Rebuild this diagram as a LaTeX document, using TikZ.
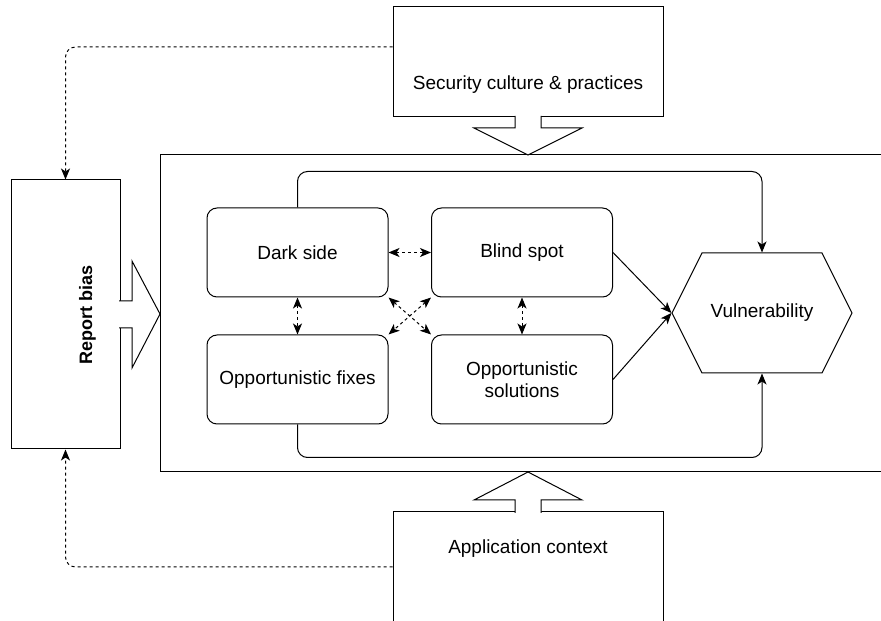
\documentclass[tikz,border=0pt]{standalone}
\usepackage{fontspec}
\setmainfont{Liberation Sans}
\usetikzlibrary{arrows.meta,shapes.symbols}

\begin{document}
\begin{tikzpicture}[>={Stealth[length=11bp,width=9bp,inset=3bp]},line join=miter,
  txt/.style={font=\fontsize{19bp}{22bp}\selectfont},
  outer/.style={draw,fill=white,txt,inner sep=0pt,minimum width=270bp},
  box/.style={draw,txt,rounded corners=10bp,minimum width=181bp,minimum height=89bp,inner sep=1bp,align=center},
  dotline/.style={dash pattern=on 3bp off 3bp}]
\pgfsetlinewidth{1bp}
\useasboundingbox (0bp,0bp) rectangle (881bp,621bp);
\clip (0bp,0bp) rectangle (881bp,621bp);
%%
\draw (890bp,466bp) -- (160bp,466bp) -- (160bp,149bp) -- (890bp,149bp);
\node (culture) at (528bp,559bp) [outer,text height=82.5bp,text depth=27.5bp] {Security culture \& practices};
\node (context) at (528bp,45bp) [outer,text height=42bp,text depth=86bp] {Application context};
\node (bias) at (65.5bp,306.5bp) [outer,rotate=90,minimum width=269bp,text height=81bp,text depth=28bp,font=\fontsize{18bp}{22bp}\selectfont\bfseries] {Report bias};
%% block arrows
\draw [fill=white] (515bp,505bp) -- (515bp,493bp) -- (474bp,493bp) -- (528bp,466bp) -- (582bp,493bp) -- (541bp,493bp) -- (541bp,505bp);
\draw [fill=white] (119bp,320bp) -- (132bp,320bp) -- (132bp,360bp) -- (160bp,307bp) -- (132bp,253bp) -- (132bp,293bp) -- (119bp,293bp);
\draw [fill=white] (515bp,108bp) -- (515bp,121bp) -- (474bp,121bp) -- (528bp,149bp) -- (582bp,121bp) -- (541bp,121bp) -- (541bp,108bp);
%%
\node (dark) at (297.5bp,368.5bp) [box] {Dark side};
  \node (blind) at (522bp,368.5bp) [box] {Blind spot};
  \node (fixes) at (297.5bp,241.5bp) [box] {Opportunistic fixes};
  \node (solutions) at (522bp,241.5bp) [box] {Opportunistic\\solutions};
  \node (vuln) at (762bp,308bp) [draw,txt,signal,signal to=east and west,signal pointer angle=126.87,minimum width=180bp,minimum height=120bp,inner sep=0pt] {Vulnerability};
%
\draw [->,rounded corners=10bp] (dark.north) -- ++(0bp,36bp) -| (vuln.north);
\draw [->,rounded corners=10bp] (fixes.south) -- ++(0bp,-33bp) -| (vuln.south);
\draw [->] (blind.east) -- (vuln.west);
\draw [->] (solutions.east) -- (vuln.west);
%% dashed ones
\draw [->,dotline,rounded corners=10bp] ([yshift=15bp]culture.west) -| (bias.east);
\draw [->,dotline,rounded corners=10bp] ([yshift=9bp]context.west) -| (bias.west);
\draw [<->,dotline] (dark.east) -- (blind.west);
\draw [<->,dotline] (dark.south) -- (fixes.north);
\draw [<->,dotline] (blind.south) -- (solutions.north);
\draw [<->,dotline] (dark.south east) -- (solutions.north west);
\draw [<->,dotline] (blind.south west) -- (fixes.north east);
%
\end{tikzpicture}
\end{document}
